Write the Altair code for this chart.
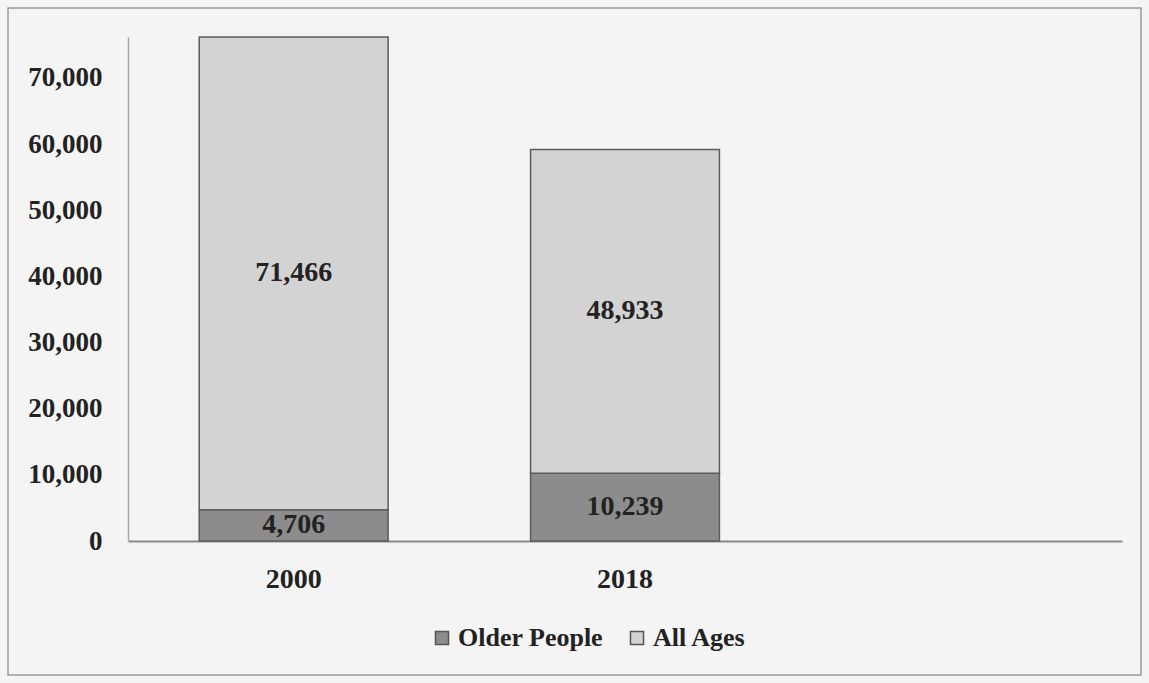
import altair as alt
import pandas as pd

years = ["2000", "2018"]
series = ["Older People", "All Ages"]
older = [4706, 10239]
all_ages = [71466, 48933]
colors = ["#8c8c8c", "#d3d3d3"]
y_ticks = [0, 10000, 20000, 30000, 40000, 50000, 60000, 70000]

FONT = "Liberation Serif"

rows = []
for i, yr in enumerate(years):
    base = 0
    for s, vals in zip(series, [older, all_ages]):
        v = vals[i]
        rows.append(dict(year=yr, series=s, value=v, y0=base, y1=base + v,
                         mid=base + v / 2, label=f"{v:,}"))
        base += v
df = pd.DataFrame(rows)

x_domain = years + [" "]
xscale = alt.Scale(domain=x_domain, paddingInner=0.43, paddingOuter=0.215)
yscale = alt.Scale(domain=[0, 76172], nice=False)

base = alt.Chart(df)

bars = base.mark_bar(stroke="#5c5c5c", strokeWidth=1.5).encode(
    x=alt.X("year:N", scale=xscale,
            axis=alt.Axis(title=None, labelAngle=0, ticks=False, domainColor="#8a8a8a",
                          domainWidth=2, labelFont=FONT, labelFontSize=28,
                          labelFontWeight="bold", labelColor="#222222", labelPadding=24)),
    y=alt.Y("y0:Q", scale=yscale,
            axis=alt.Axis(title=None, values=y_ticks, format=",.0f", ticks=False, grid=False,
                          domainColor="#a8a8a8", domainWidth=1.5, labelFont=FONT,
                          labelFontSize=27, labelFontWeight="bold", labelColor="#222222",
                          labelPadding=26)),
    y2="y1:Q",
    color=alt.Color("series:N", scale=alt.Scale(domain=series, range=colors),
                    legend=alt.Legend(title=None, orient="none", legendX=301, legendY=588,
                                      direction="horizontal", symbolType="square",
                                      symbolSize=170, symbolStrokeColor="#555555",
                                      symbolStrokeWidth=1.5, labelFont=FONT,
                                      labelFontSize=26, labelFontWeight="bold",
                                      labelColor="#222222", columnPadding=20,
                                      labelOffset=3, padding=0)),
)

labels = base.mark_text(font=FONT, fontSize=28, fontWeight="bold", color="#222222").encode(
    x=alt.X("year:N", scale=xscale),
    y=alt.Y("mid:Q", scale=yscale),
    text="label:N",
)

frame = alt.Chart(pd.DataFrame({"a": [0]})).mark_rect(
    fillOpacity=0, stroke="#9a9a9a", strokeWidth=1.5
).encode(x=alt.value(-120), x2=alt.value(1013), y=alt.value(-29), y2=alt.value(638))

chart = alt.layer(bars, labels, frame).properties(
    width=994, height=504,
    background="#f4f4f4",
    padding={"left": 128, "top": 37, "right": 27, "bottom": 142},
    autosize=alt.AutoSizeParams(type="none"),
).configure_view(stroke=None)

chart.save("out.html", embed_options={"renderer": "svg", "actions": False})
